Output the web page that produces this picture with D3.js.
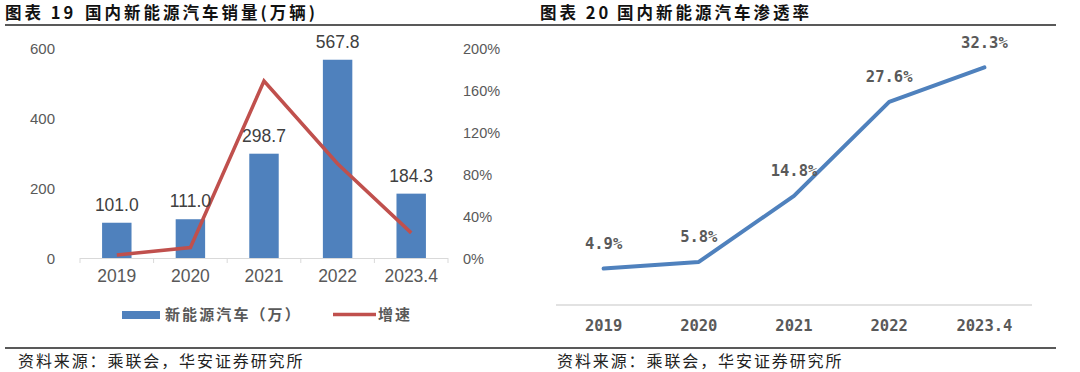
<!DOCTYPE html>
<html>
<head>
<meta charset="utf-8">
<script src="https://cdn.jsdelivr.net/npm/d3@7"></script>
<style>
  html, body { margin: 0; padding: 0; background: #fff; }
  svg { display: block; }
  .title { font-family: "Noto Sans CJK SC", sans-serif; font-weight: 700; font-size: 16.5px; fill: #111; letter-spacing: 3px; }
  .source { font-family: "Noto Sans CJK SC", sans-serif; font-size: 16px; fill: #222; letter-spacing: 1.9px; }
  .num { font-family: "Liberation Sans", Arial, sans-serif; fill: #595959; }
  .mono { font-family: "DejaVu Sans Mono", monospace; font-weight: 700; fill: #595959; font-size: 15.5px; }
  .legend { font-family: "Noto Sans CJK SC", sans-serif; font-weight: 700; font-size: 15px; fill: #595959; letter-spacing: 2.1px; }
</style>
</head>
<body>
<svg id="chart" width="1080" height="372"></svg>
<script>
// data
const years = ['2019', '2020', '2021', '2022', '2023.4'];
const salesValues = [101.0, 111.0, 298.7, 567.8, 184.3];   // 万辆
const growthValues = [0.029, 0.10, 1.69, 0.90, 0.24];     // 增速
const salesTicks = [0, 200, 400, 600];
const growthTicks = [0, 0.4, 0.8, 1.2, 1.6, 2.0];
const penetrationValues = [4.9, 5.8, 14.8, 27.6, 32.3];   // %

const blue = '#4F81BD';
const red = '#C0504D';
const svg = d3.select('#chart');

// ---- frame: titles, rules, sources
function title(x, xMain, num, text){
    svg.append('text').attr('class', 'title').attr('x', x).attr('y', 19).text('图表 ' + num);
    svg.append('text').attr('class', 'title').attr('x', xMain).attr('y', 19).text(text);
}
title(5, 85, '19', '国内新能源汽车销量(万辆)');
title(540, 617, '20', '国内新能源汽车渗透率');
[25, 348].forEach(y => {
    svg.append('line').attr('x1', 5).attr('x2', 1056).attr('y1', y).attr('y2', y)
        .attr('stroke', '#222').attr('stroke-width', 1.3);
});
[18, 557].forEach(x => {
    svg.append('text').attr('class', 'source').attr('x', x).attr('y', 367)
        .text('资料来源：乘联会，华安证券研究所');
});

// ---- left chart: bars + growth line
const x1 = d3.scaleBand().domain(years).range([80, 448]).paddingInner(0.6).paddingOuter(0.3);
const ySales = d3.scaleLinear().domain([0, 600]).range([258, 48.5]);
const yGrowth = d3.scaleLinear().domain([0, 2]).range([258, 48.5]);
const cx1 = d => x1(d) + x1.bandwidth() / 2;
const left = svg.append('g');

left.selectAll('.ylab').data(salesTicks).enter().append('text')
    .attr('class', 'num').attr('x', 55).attr('y', d => ySales(d) + 5.5)
    .attr('text-anchor', 'end').style('font-size', '15px').text(d => d);

left.selectAll('.ylab2').data(growthTicks).enter().append('text')
    .attr('class', 'num').attr('x', 463).attr('y', d => yGrowth(d) + 5.5)
    .style('font-size', '14.5px').text(d => d3.format('.0%')(d));

left.selectAll('rect').data(salesValues).enter().append('rect')
    .attr('x', (d, i) => x1(years[i]))
    .attr('width', x1.bandwidth())
    .attr('y', d => ySales(d))
    .attr('height', d => ySales(0) - ySales(d))
    .attr('fill', blue);

// axis line with ticks between categories
const step = x1.step();
const x0 = x1.range()[0];
left.append('line').attr('x1', x0).attr('x2', x1.range()[1])
    .attr('y1', ySales(0) + 0.5).attr('y2', ySales(0) + 0.5)
    .attr('stroke', '#d9d9d9').attr('stroke-width', 1);
left.selectAll('.tick').data(d3.range(years.length + 1)).enter().append('line')
    .attr('x1', i => x0 + i * step).attr('x2', i => x0 + i * step)
    .attr('y1', ySales(0)).attr('y2', ySales(0) + 5)
    .attr('stroke', '#d9d9d9');

left.selectAll('.xlab').data(years).enter().append('text')
    .attr('class', 'num').attr('x', cx1).attr('y', 282)
    .attr('text-anchor', 'middle').style('font-size', '17.5px').text(d => d);

left.append('path').datum(growthValues)
    .attr('d', d3.line().x((d, i) => cx1(years[i])).y(d => yGrowth(d)))
    .attr('fill', 'none').attr('stroke', red).attr('stroke-width', 3.5);

left.selectAll('.vlab').data(salesValues).enter().append('text')
    .attr('class', 'num').attr('x', (d, i) => cx1(years[i]))
    .attr('y', d => ySales(d) - 12)
    .attr('text-anchor', 'middle').style('font-size', '17.5px').style('fill', '#404040')
    .text(d => d3.format('.1f')(d));

// legend
left.append('rect').attr('x', 122).attr('y', 311).attr('width', 38).attr('height', 8).attr('fill', blue);
left.append('text').attr('class', 'legend').attr('x', 165).attr('y', 319.5).text('新能源汽车（万）');
left.append('line').attr('x1', 333).attr('x2', 376).attr('y1', 314.5).attr('y2', 314.5)
    .attr('stroke', red).attr('stroke-width', 3.5);
left.append('text').attr('class', 'legend').attr('x', 378).attr('y', 319.5).text('增速');

// ---- right chart: penetration line
const x2 = d3.scalePoint().domain(years).range([556, 1032]).padding(0.5);
const yPen = d3.scaleLinear().domain([0, 35]).range([304.5, 47.6]);
const right = svg.append('g');

right.append('line').attr('x1', 556).attr('x2', 1032).attr('y1', 305).attr('y2', 305)
    .attr('stroke', '#d9d9d9').attr('stroke-width', 1.5);

right.selectAll('.xlab').data(years).enter().append('text')
    .attr('class', 'mono').attr('x', d => x2(d)).attr('y', 330.5)
    .attr('text-anchor', 'middle').text(d => d);

right.append('path').datum(penetrationValues)
    .attr('d', d3.line().x((d, i) => x2(years[i])).y(d => yPen(d)))
    .attr('fill', 'none').attr('stroke', blue).attr('stroke-width', 4)
    .attr('stroke-linejoin', 'round').attr('stroke-linecap', 'round');

right.selectAll('.vlab').data(penetrationValues).enter().append('text')
    .attr('class', 'mono').attr('x', (d, i) => x2(years[i])).attr('y', d => yPen(d) - 19.5)
    .attr('text-anchor', 'middle').text(d => d.toFixed(1) + '%');
</script>
</body>
</html>
